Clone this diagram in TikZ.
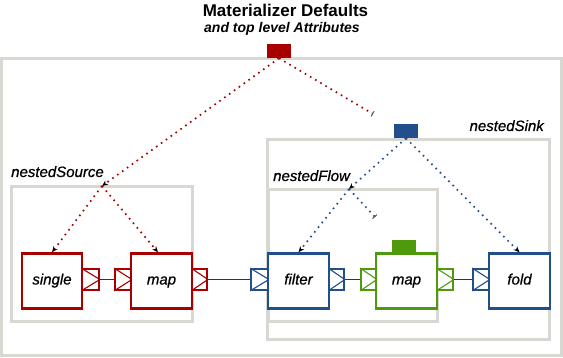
\documentclass[tikz,border=0pt]{standalone}
\usepackage{fontspec}
\setmainfont{Liberation Sans}
\newfontfamily\lblfam{Liberation Sans}[ItalicFeatures={FakeBold=0.7}]
\usetikzlibrary{arrows.meta}
\definecolor{cred}{HTML}{A80000}
\definecolor{cblue}{HTML}{224E8B}
\definecolor{cgreen}{HTML}{4F9A0C}
\definecolor{cgray}{HTML}{D6D8D1}
\definecolor{cline}{HTML}{333333}
\begin{document}
\begin{tikzpicture}[x=1pt,y=-1pt,
 grp/.style={draw=cgray, line width=3pt, inner sep=0, rectangle},
 blk/.style={draw=#1, fill=white, line width=2.4pt, minimum width=61pt, minimum height=55pt, inner sep=0, font=\fontsize{15}{15}\lblfam\itshape, text height=7pt, text depth=0pt},
 prt/.style={draw=#1, fill=white, line width=1.8pt, minimum width=16pt, minimum height=21pt, inner sep=0},
 tri/.style={draw=#1, line width=1.1pt},
 tab/.style={fill=#1, draw=none, minimum width=24pt, minimum height=14pt, inner sep=0},
 wire/.style={draw=cline, line width=1.2pt},
 dots/.style={draw=#1, line width=1.7pt, dash pattern=on 1.6pt off 4.4pt},
 tip/.style={-{Stealth[length=6pt,width=5pt,color=black]}},
 bartip/.style={-{Bar[width=6pt,line width=0.9pt,color=black!70]}},
 grplabel/.style={font=\fontsize{15}{15}\lblfam\itshape, inner sep=0}
]
\useasboundingbox (0,0) rectangle (563,358);
% group boxes
\node[grp, minimum width=560pt, minimum height=297pt] (outer) at (281,207.5) {};
\node[grp, minimum width=181pt, minimum height=135pt] (gsrc) at (101.5,254.5) {};
\node[grp, minimum width=282pt, minimum height=200pt] (gsink) at (408,240) {};
\node[grp, minimum width=169pt, minimum height=132pt] (gflow) at (352.5,256) {};
% titles
\node[font=\fontsize{17}{17}\selectfont\bfseries, anchor=base, inner sep=0] (title) at (285.5,17) {Materializer Defaults};
\node[font=\fontsize{14}{14}\selectfont\bfseries\itshape, anchor=base, inner sep=0] (sub) at (282,33) {and top level Attributes};
\node[grplabel, anchor=base west] (lsrc) at (11,177) {nestedSource};
\node[grplabel, anchor=base west] (lflow) at (273,181) {nestedFlow};
\node[grplabel, anchor=base east] (lsink) at (544,131) {nestedSink};
% tabs
\node[tab=cred] (redtab) at (279,51) {};
\node[tab=cblue] (bluetab) at (406,131) {};
\node[tab=cgreen, minimum height=13pt] (greentab) at (404,246.5) {};
% ports
\node[prt=cred, minimum width=17pt] (so) at (90.5,279.5) {};
\node[prt=cred] (mi) at (123,279.5) {};
\node[prt=cred, minimum width=15pt] (mo) at (199.5,279.5) {};
\node[prt=cblue, minimum width=17pt] (fi) at (259.5,279.5) {};
\node[prt=cblue, minimum width=15pt] (fo) at (336.5,279.5) {};
\node[prt=cgreen, minimum width=15pt] (gi) at (368.5,279.5) {};
\node[prt=cgreen] (go) at (445,279.5) {};
\node[prt=cblue] (ki) at (481,279.5) {};
\foreach \p/\c in {so/cred,mi/cred,mo/cred,fi/cblue,fo/cblue,gi/cgreen,go/cgreen,ki/cblue}
  \draw[tri=\c] (\p.north west) -- (\p.east) -- (\p.south west);
% blocks
\node[blk=cred, minimum width=60pt] (single) at (52,281) {single};
\node[blk=cred] (mapr) at (161.5,281) {map};
\node[blk=cblue] (filter) at (298.5,281) {filter};
\node[blk=cgreen] (mapg) at (406.5,281) {map};
\node[blk=cblue] (fold) at (519.5,281) {fold};
% wires
\draw[wire] (so.east) -- (mi.west);
\draw[wire] (mo.east) -- (fi.west);
\draw[wire] (fo.east) -- (gi.west);
\draw[wire] (go.east) -- (ki.west);
% attribute propagation
\coordinate (rj) at (102,186);
\coordinate (rb) at (373,114);
\coordinate (bj) at (349,189);
\coordinate (bb) at (375,217);
\draw[dots=cred, tip] (redtab.south) -- (rj);
\draw[dots=cred, tip] (rj) -- (single.north);
\draw[dots=cred, tip] (rj) -- ([xshift=-3.5pt]mapr.north);
\draw[dots=cred, bartip] (redtab.south) -- (rb);
\draw[dots=cblue, tip] (bluetab.south) -- (bj);
\draw[dots=cblue, tip] (bj) -- (filter.north);
\draw[dots=cblue, bartip] (bj) -- (bb);
\draw[dots=cblue, tip] (bluetab.south) -- (fold.north);
\end{tikzpicture}
\end{document}
